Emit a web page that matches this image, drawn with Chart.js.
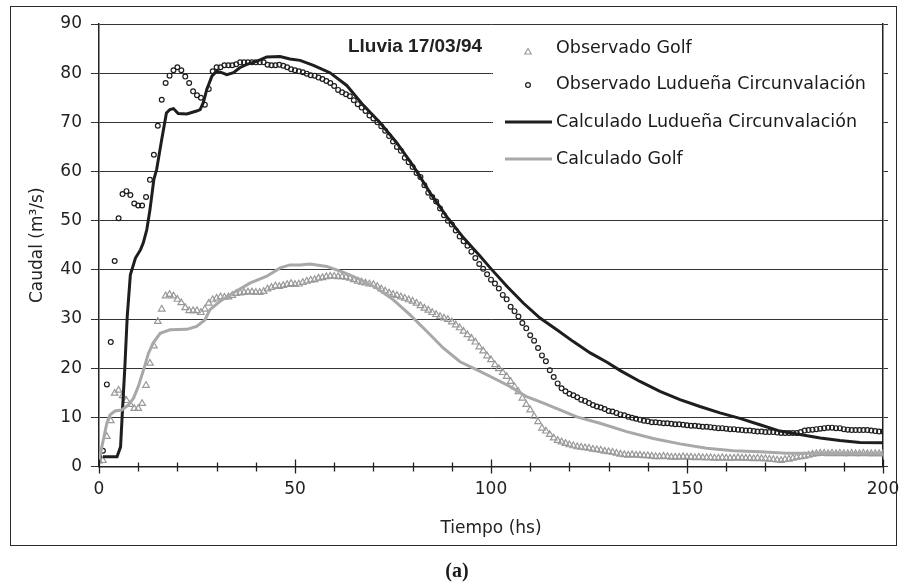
<!DOCTYPE html>
<html>
<head>
<meta charset="utf-8">
<script src="https://cdn.jsdelivr.net/npm/chart.js@4.4.1/dist/chart.umd.min.js"></script>
<style>
    body { margin: 0; background: #fff; }
    #wrap { position: relative; width: 901px; height: 585px; }
    #frame { position: absolute; left: 10px; top: 6px; width: 887px; height: 540px; border: 1.5px solid #2a2a2a; box-sizing: border-box; pointer-events: none; }
    #cap { position: absolute; left: 407px; width: 100px; top: 559px; text-align: center; font: bold 20px "Liberation Serif", "DejaVu Serif", serif; color: #1a1a1a; }
</style>
</head>
<body>
<div id="wrap">
    <canvas id="grafico" width="901" height="585"></canvas>
    <div id="frame"></div>
    <div id="cap">(a)</div>
</div>
<script>
// --- DATOS ---
const horas = [
    0,1,2,3,4,5,6,7,8,9,10,11,12,13,14,15,16,17,18,19,
    20,21,22,23,24,25,26,27,28,29,30,31,32,33,34,35,36,37,38,39,
    40,41,42,43,44,45,46,47,48,49,50,51,52,53,54,55,56,57,58,59,
    60,61,62,63,64,65,66,67,68,69,70,71,72,73,74,75,76,77,78,79,
    80,81,82,83,84,85,86,87,88,89,90,91,92,93,94,95,96,97,98,99,
    100,101,102,103,104,105,106,107,108,109,110,111,112,113,114,115,116,117,118,119,
    120,121,122,123,124,125,126,127,128,129,130,131,132,133,134,135,136,137,138,139,
    140,141,142,143,144,145,146,147,148,149,150,151,152,153,154,155,156,157,158,159,
    160,161,162,163,164,165,166,167,168,169,170,171,172,173,174,175,176,177,178,179,
    180,181,182,183,184,185,186,187,188,189,190,191,192,193,194,195,196,197,198,199,
    200
];

// Observado Golf (triangulos)
const obsGolf = [
    1.1, 1.2, 6.1, 9.3, 14.9, 15.5, 14.4, 13.4, 12.6, 11.8,
    11.8, 12.8, 16.5, 21.0, 24.5, 29.5, 32.0, 34.7, 35.0, 34.7,
    34.0, 33.3, 32.3, 31.7, 31.7, 31.7, 31.3, 32.0, 33.2, 33.9,
    34.2, 34.5, 34.4, 34.5, 34.8, 35.2, 35.3, 35.4, 35.5, 35.5,
    35.4, 35.4, 35.6, 36.1, 36.4, 36.7, 36.6, 36.8, 37.0, 37.2,
    37.0, 37.1, 37.4, 37.7, 37.9, 38.0, 38.3, 38.4, 38.6, 38.7,
    38.7, 38.6, 38.6, 38.5, 38.3, 38.0, 37.7, 37.5, 37.3, 37.1,
    37.0, 36.6, 36.1, 35.7, 35.3, 35.0, 34.8, 34.5, 34.2, 33.9,
    33.6, 33.2, 32.7, 32.2, 31.8, 31.3, 30.9, 30.5, 30.2, 29.9,
    29.4, 28.8, 28.2, 27.5, 26.8, 26.1, 25.3, 24.3, 23.5, 22.5,
    21.7, 20.7, 19.9, 19.1, 18.3, 17.3, 16.2, 15.2, 13.9, 12.6,
    11.5, 10.2, 9.1, 7.8, 7.2, 6.5, 5.8, 5.3, 5.0, 4.7,
    4.4, 4.2, 4.0, 3.9, 3.8, 3.7, 3.5, 3.4, 3.3, 3.1,
    3.0, 2.9, 2.7, 2.5, 2.4, 2.3, 2.4, 2.3, 2.3, 2.2,
    2.2, 2.1, 2.0, 2.0, 2.1, 2.0, 1.9, 1.9, 1.9, 2.0,
    1.9, 1.9, 1.8, 1.9, 1.8, 1.8, 1.8, 1.7, 1.7, 1.8,
    1.7, 1.7, 1.7, 1.8, 1.7, 1.7, 1.7, 1.6, 1.7, 1.6,
    1.6, 1.5, 1.4, 1.3, 1.2, 1.4, 1.5, 1.7, 1.9, 2.0,
    2.1, 2.3, 2.5, 2.6, 2.7, 2.7, 2.6, 2.7, 2.6, 2.7,
    2.6, 2.6, 2.7, 2.6, 2.6, 2.7, 2.6, 2.6, 2.6, 2.6,
    2.6
];

// Observado Ludueña Circunvalación (circulos)
const obsLudueña = [
    2.1, 3.2, 16.7, 25.3, 41.8, 50.5, 55.4, 56.0, 55.2, 53.5,
    53.1, 53.1, 54.8, 58.3, 63.4, 69.3, 74.6, 78.0, 79.5, 80.6,
    81.2, 80.6, 79.3, 78.0, 76.3, 75.5, 75.0, 73.6, 76.8, 80.4,
    81.2, 81.2, 81.6, 81.6, 81.6, 81.8, 82.2, 82.2, 82.2, 82.2,
    82.2, 82.2, 82.2, 81.7, 81.6, 81.6, 81.7, 81.5, 81.2, 80.8,
    80.6, 80.4, 80.2, 79.9, 79.6, 79.5, 79.1, 78.8, 78.4, 78.0,
    77.4, 76.6, 76.1, 75.7, 75.3, 74.5, 73.7, 73.0, 72.3, 71.4,
    70.8, 70.0, 69.2, 68.3, 67.2, 66.1, 65.0, 64.2, 62.8, 61.9,
    60.9, 59.7, 58.9, 57.2, 55.7, 54.8, 53.9, 52.5, 51.1, 50.0,
    49.2, 48.0, 46.8, 45.8, 44.9, 43.7, 42.4, 41.2, 40.2, 39.1,
    38.0, 37.2, 36.2, 34.9, 34.0, 32.5, 31.6, 30.5, 29.2, 28.1,
    26.7, 25.6, 24.1, 22.6, 21.4, 19.6, 18.2, 16.9, 15.9, 15.3,
    14.8, 14.5, 14.1, 13.6, 13.3, 12.9, 12.5, 12.2, 12.0, 11.7,
    11.3, 11.2, 10.9, 10.6, 10.4, 10.1, 9.9, 9.7, 9.5, 9.3,
    9.2, 9.0, 9.0, 8.9, 8.8, 8.8, 8.7, 8.6, 8.6, 8.5,
    8.4, 8.3, 8.3, 8.2, 8.1, 8.1, 8.0, 7.9, 7.8, 7.8,
    7.7, 7.6, 7.6, 7.5, 7.4, 7.3, 7.3, 7.2, 7.1, 7.1,
    7.0, 7.0, 7.0, 6.9, 6.8, 6.8, 6.8, 6.8, 6.8, 7.0,
    7.3, 7.4, 7.5, 7.6, 7.7, 7.8, 7.9, 7.9, 7.8, 7.8,
    7.6, 7.5, 7.4, 7.4, 7.4, 7.4, 7.4, 7.3, 7.2, 7.1,
    7.1
];

// Calculado Ludueña Circunvalación (linea negra)
const calcLudT = [1, 4.6, 5.5, 5.9, 6.6, 7.2, 8, 9.3, 10.6, 11.3, 12.2, 13, 14, 14.7, 16, 17.2, 18.1, 19, 20.2, 22.4,
    24.9, 25.8, 26.6, 27.5, 28.8, 30, 31.3, 32.6, 34.3, 35.9, 37.7, 40.2, 42.8, 46.2, 48.7, 51.3, 54.7, 58.9, 63.2, 67.4,
    71.7, 75.9, 80.2, 84.5, 88.8, 93, 97.3, 99.8, 104.1, 108.3, 112.5, 116.8, 121, 125.3, 129.6, 133, 138, 143.1, 148.2, 153.3,
    158.4, 163.5, 168.6, 173.7, 178.8, 184, 189, 194.1, 200];
const calcLudQ = [2.0, 2.0, 4.0, 10.1, 20.3, 30.5, 39.0, 42.4, 44.1, 45.5, 48.2, 52.2, 58.4, 60.4, 66.5, 71.9, 72.6, 72.8, 71.8, 71.7,
    72.3, 72.6, 74.0, 76.7, 79.4, 80.4, 80.1, 79.7, 80.1, 81.1, 81.8, 82.4, 83.3, 83.4, 82.9, 82.6, 81.6, 80.1, 77.5, 73.5,
    69.9, 65.9, 61.1, 55.6, 50.7, 46.5, 42.7, 40.4, 36.6, 33.2, 30.2, 27.8, 25.4, 23.1, 21.2, 19.5, 17.3, 15.3, 13.6, 12.2,
    10.9, 9.8, 8.5, 7.2, 6.5, 5.8, 5.3, 4.9, 4.85];

// Calculado Golf (linea gris)
const calcGolfT = [0, 1.1, 2, 2.8, 4.1, 5.8, 7.5, 8.8, 10, 11.5, 12.6, 13.8, 15.6, 18.1, 22.4, 24.9, 27, 28.3, 30.9, 34.2,
    38.5, 42.8, 46.2, 48.7, 51.3, 53.8, 58.1, 62.4, 66.6, 70.8, 75.1, 79.3, 83.6, 87.8, 92.1, 96.3, 100.6, 104.8, 109.1, 113.4,
    117.6, 121.9, 127.8, 134.6, 141.4, 148.2, 155, 161.8, 168.6, 175.4, 182.2, 200];
const calcGolfQ = [1.3, 5.4, 8.8, 10.5, 11.3, 11.5, 12.5, 13.9, 16.2, 20.0, 23.0, 25.1, 27.1, 27.8, 27.9, 28.5, 29.8, 31.9, 33.6, 35.3,
    37.3, 38.7, 40.4, 41.0, 41.0, 41.2, 40.7, 39.5, 38.0, 36.3, 33.9, 30.9, 27.5, 24.1, 21.3, 19.7, 18.0, 16.3, 14.2, 12.9,
    11.5, 10.1, 8.8, 7.1, 5.7, 4.6, 3.7, 3.2, 3.0, 2.7, 2.7, 2.6];

const xEtiquetas = [0, 50, 100, 150, 200];
const tituloLluvia = 'Lluvia 17/03/94';

// --- HELPERS ---
const pares = (xs, ys) => xs.map((x, i) => ({ x: x, y: ys[i] }));
const fuente = { family: '"DejaVu Sans", sans-serif', size: 17 };
const negro = '#1e1e1e';
const gris = '#a8a8a8';

// Marcas del eje X (cruzan el eje)
const pluginMarcas = {
    id: 'marcas',
    afterDraw(chart) {
        const ctx = chart.ctx;
        const xs = chart.scales.x;
        const y0 = chart.chartArea.bottom;
        ctx.save();
        ctx.strokeStyle = '#222';
        ctx.lineWidth = 1.3;
        for (let v = xs.min; v <= xs.max; v += 10) {
            const px = Math.round(xs.getPixelForValue(v)) + 0.5;
            const mayor = v % 50 === 0;
            ctx.beginPath();
            ctx.moveTo(px, y0 - (mayor ? 7 : 4));
            ctx.lineTo(px, y0 + (mayor ? 7 : 5));
            ctx.stroke();
        }
        ctx.restore();
    }
};

// Leyenda dentro del area del grafico, con fondo blanco
const pluginLeyenda = {
    id: 'leyendaInterna',
    beforeDatasetsDraw(chart) {
        const { ctx, chartArea } = chart;
        ctx.save();
        ctx.fillStyle = '#fff';
        ctx.fillRect(493, chartArea.top + 1, chartArea.right - 494, 176);
        ctx.restore();
    },
    afterDatasetsDraw(chart) {
        const ctx = chart.ctx;
        const ds = chart.data.datasets;
        ctx.save();
        ctx.font = 'bold 19px "Liberation Sans", Arial, sans-serif';
        ctx.fillStyle = '#222';
        ctx.textAlign = 'center';
        ctx.textBaseline = 'middle';
        ctx.fillText(tituloLluvia, 415, 47);

        const filas = [48, 84, 122, 159];
        ctx.font = '17.5px "DejaVu Sans", sans-serif';
        ctx.textAlign = 'left';
        ds.forEach((d, i) => {
            const y = filas[i];
            if (d.showLine) {
                ctx.strokeStyle = d.borderColor;
                ctx.lineWidth = d.borderWidth;
                ctx.beginPath();
                ctx.moveTo(505, y);
                ctx.lineTo(552, y);
                ctx.stroke();
            } else if (d.pointStyle === 'triangle') {
                ctx.strokeStyle = d.pointBorderColor;
                ctx.lineWidth = 1.1;
                ctx.beginPath();
                ctx.moveTo(528, y + 0.5);
                ctx.lineTo(531.3, y + 6);
                ctx.lineTo(524.7, y + 6);
                ctx.closePath();
                ctx.stroke();
            } else {
                ctx.strokeStyle = d.pointBorderColor;
                ctx.lineWidth = 1.2;
                ctx.beginPath();
                ctx.arc(528, y + 1, 2.4, 0, Math.PI * 2);
                ctx.stroke();
            }
            ctx.fillStyle = '#1a1a1a';
            ctx.fillText(d.label, 556, y);
        });
        ctx.restore();
    }
};

new Chart(document.getElementById('grafico'), {
    type: 'scatter',
    data: {
        datasets: [
            {
                label: 'Observado Golf',
                data: pares(horas, obsGolf),
                showLine: false,
                pointStyle: 'triangle',
                pointRadius: 3.8,
                pointBorderWidth: 1.2,
                pointBorderColor: '#999',
                pointBackgroundColor: 'rgba(255,255,255,0)',
                order: 4
            },
            {
                label: 'Observado Ludueña Circunvalación',
                data: pares(horas, obsLudueña),
                showLine: false,
                pointStyle: 'circle',
                pointRadius: 2.4,
                pointBorderWidth: 1.2,
                pointBorderColor: negro,
                pointBackgroundColor: 'rgba(255,255,255,0)',
                order: 3
            },
            {
                label: 'Calculado Ludueña Circunvalación',
                data: pares(calcLudT, calcLudQ),
                showLine: true,
                borderColor: negro,
                borderWidth: 3,
                pointRadius: 0,
                tension: 0,
                order: 2
            },
            {
                label: 'Calculado Golf',
                data: pares(calcGolfT, calcGolfQ),
                showLine: true,
                borderColor: gris,
                borderWidth: 3,
                pointRadius: 0,
                tension: 0,
                order: 1
            }
        ]
    },
    options: {
        responsive: false,
        animation: false,
        events: [],
        layout: { padding: { top: 24, left: 0, right: 0, bottom: 0 } },
        plugins: { legend: { display: false }, tooltip: { enabled: false } },
        scales: {
            x: {
                type: 'linear',
                min: 0,
                max: 200,
                afterBuildTicks: s => { s.ticks = xEtiquetas.map(v => ({ value: v })); },
                afterFit: s => { s.height = 118.5; s.paddingLeft = 0; s.paddingRight = 0; },
                grid: { display: false, drawTicks: false },
                border: { color: '#222', width: 1.5 },
                ticks: { font: fuente, color: '#222', padding: 13, maxRotation: 0 },
                title: { display: true, text: 'Tiempo (hs)', font: fuente, color: '#222', padding: { top: 0, bottom: 46 } }
            },
            y: {
                min: 0,
                max: 90,
                afterFit: s => { s.width = 99; },
                grid: { color: '#333', lineWidth: 1, tickLength: 8 },
                border: { color: '#222', width: 1.5 },
                ticks: { stepSize: 10, font: fuente, color: '#222', padding: 9 },
                title: { display: true, text: 'Caudal (m³/s)', font: fuente, color: '#222', padding: { top: 27, bottom: 0 } }
            },
            y2: {
                position: 'right',
                min: 0,
                max: 90,
                afterFit: s => { s.width = 18; },
                grid: { drawOnChartArea: false, tickLength: 5, color: '#333' },
                border: { color: '#222', width: 1.5 },
                ticks: { display: false, stepSize: 10 }
            }
        }
    },
    plugins: [pluginMarcas, pluginLeyenda]
});
</script>
</body>
</html>
